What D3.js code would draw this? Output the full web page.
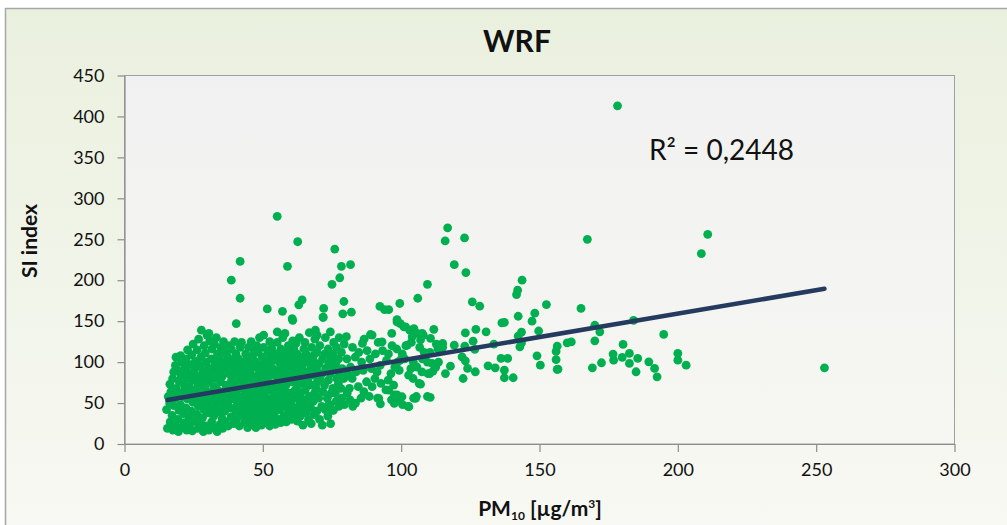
<!DOCTYPE html>
<html>
<head>
<meta charset="utf-8">
<script src="https://cdn.jsdelivr.net/npm/d3@7"></script>
<style>
  body { margin: 0; background: #fff; }
  svg { display: block; }
  text { font-family: Lato, "Open Sans", sans-serif; }
</style>
</head>
<body>
<svg id="chart" width="1007" height="525"></svg>
<script>
// Axis ticks
const xTicks = [0, 50, 100, 150, 200, 250, 300];
const yTicks = [0, 50, 100, 150, 200, 250, 300, 350, 400, 450];

// Observations: [PM10 (µg/m³), SI index]
const observations = [
  [15.5,19],[15.2,42],[15.8,58],
  [16.5,27],[16.3,50],[16.8,64],[16.4,73],
  [17.5,17],[17.2,35],[17.7,47],[17.4,80],[17.8,88],
  [18.5,22],[18.3,56],[18.7,68],[18.4,96],[18.6,106],
  [19.5,15],[19.3,30],[19.7,41],[19.4,62],[19.6,77],[19.2,90],
  [20.5,20],[20.2,48],[20.8,58],[20.4,84],[20.6,100],[20.3,108],
  [21.5,26],[21.3,37],[21.7,66],[21.4,73],[21.8,94],
  [22.5,17],[22.2,44],[22.7,55],[22.4,80],[22.6,88],[22.3,104],[22.8,115],
  [23.5,23],[23.3,33],[23.7,62],[23.4,70],[23.6,97],
  [24.5,16],[24.2,40],[24.7,51],[24.4,78],[24.6,86],[24.3,109],[24.8,122],
  [25.5,28],[25.3,58],[25.7,66],[25.4,92],[25.6,101],
  [26.5,19],[26.2,36],[26.7,46],[26.4,74],[26.6,83],[26.3,115],[26.8,128],
  [27.5,25],[27.3,54],[27.7,62],[27.4,96],[27.6,106],[27.8,139],
  [28.5,15],[28.2,32],[28.7,42],[28.4,70],[28.6,79],[28.3,88],[28.8,120],
  [29.5,22],[29.3,50],[29.7,58],[29.4,66],[29.6,100],[29.2,111],[29.8,133],
  [30.5,17],[30.2,38],[30.7,46],[30.4,75],[30.6,84],[30.3,93],[30.8,126],[30.5,135],
  [31.5,27],[31.3,55],[31.7,63],[31.4,104],[31.6,116],
  [32.5,20],[32.2,34],[32.7,43],[32.4,70],[32.6,80],[32.3,90],[32.8,98],[32.5,122],
  [33.5,15],[33.3,50],[33.7,59],[33.4,67],[33.6,110],[33.2,130],
  [34.5,24],[34.2,39],[34.7,76],[34.4,86],[34.6,95],[34.3,104],[34.8,118],
  [35.5,19],[35.3,31],[35.7,46],[35.4,55],[35.6,64],[35.2,82],[35.8,125],
  [36.5,27],[36.2,40],[36.7,72],[36.4,92],[36.6,100],[36.3,112],
  [37.5,22],[37.3,50],[37.7,60],[37.4,68],[37.6,86],[37.2,107],[37.8,120],
  [38.5,33],[38.2,44],[38.7,78],[38.4,96],[38.6,116],[38.6,200],
  [39.5,25],[39.3,55],[39.7,64],[39.4,73],[39.6,90],[39.2,103],[39.8,125],
  [40.5,30],[40.2,40],[40.7,49],[40.4,84],[40.6,98],[40.3,110],[40.4,147],
  [41.5,22],[41.3,58],[41.7,68],[41.4,78],[41.6,93],[41.2,104],[41.8,118],[41.8,178],[41.8,223],
  [42.5,35],[42.2,45],[42.7,53],[42.4,87],[42.6,100],[42.3,124],
  [43.5,27],[43.3,40],[43.7,62],[43.4,72],[43.6,82],[43.2,95],[43.8,110],
  [44.5,20],[44.2,31],[44.7,50],[44.4,58],[44.6,90],[44.3,104],[44.8,118],
  [45.5,36],[45.3,44],[45.7,67],[45.4,77],[45.6,86],[45.2,98],[45.8,125],
  [46.5,24],[46.2,30],[46.7,54],[46.4,62],[46.6,94],[46.3,108],[46.8,115],
  [47.5,20],[47.3,40],[47.7,48],[47.4,72],[47.6,82],[47.2,101],[47.8,120],
  [48.5,28],[48.2,35],[48.7,58],[48.4,66],[48.6,90],[48.3,112],[48.8,130],
  [49.5,23],[49.3,44],[49.7,52],[49.4,76],[49.6,85],[49.2,97],[49.8,106],
  [50.5,31],[50.2,38],[50.7,62],[50.4,70],[50.6,92],[50.3,118],[50.3,133],
  [51.5,26],[51.3,46],[51.7,55],[51.4,80],[51.6,88],[51.2,100],[51.8,112],[51.6,165],
  [52.5,22],[52.2,34],[52.7,42],[52.4,66],[52.6,74],[52.3,96],[52.8,106],[52.5,125],
  [53.5,29],[53.3,50],[53.7,58],[53.4,84],[53.6,92],[53.2,117],
  [54.5,24],[54.2,38],[54.7,45],[54.4,64],[54.6,72],[54.3,102],[54.8,110],[55.2,137],
  [55.5,30],[55.3,54],[55.7,60],[55.4,80],[55.6,90],[55.2,124],[55.2,278],
  [56.5,26],[56.2,42],[56.7,48],[56.4,68],[56.6,76],[56.3,98],[56.8,107],[56.5,116],
  [57.5,34],[57.3,57],[57.7,64],[57.4,86],[57.6,94],[57.2,130],[57.1,162],
  [58.5,27],[58.2,46],[58.7,52],[58.4,72],[58.6,80],[58.3,104],[58.8,112],[58.0,135],
  [59.5,36],[59.3,40],[59.7,62],[59.4,90],[59.6,98],[59.2,120],[58.9,217],
  [60.5,30],[60.2,50],[60.7,56],[60.4,76],[60.6,84],[60.3,108],[60.8,126],[60.8,151],[60.6,153],
  [61.5,38],[61.3,44],[61.7,66],[61.4,94],[61.6,102],[61.2,116],
  [62.5,28],[62.2,56],[62.7,72],[62.4,80],[62.6,88],[62.3,110],[62.0,123],[62.6,247],
  [63.5,34],[63.3,48],[63.7,62],[63.4,98],[63.6,106],[63.2,130],[63.0,170],
  [64.5,23],[64.2,42],[64.7,54],[64.4,76],[64.6,84],[64.3,92],[64.8,116],[64.2,176],
  [65.5,38],[65.3,66],[65.7,70],[65.4,100],[65.6,110],[65.2,124],
  [66.5,30],[66.2,48],[66.7,58],[66.4,80],[66.6,88],[66.3,104],[66.8,136],
  [67.5,25],[67.3,44],[67.7,72],[67.4,94],[67.6,118],
  [68.5,36],[68.2,52],[68.7,62],[68.4,84],[68.6,100],[68.3,108],[68.8,128],
  [69.5,40],[69.3,68],[69.7,76],[69.4,92],[69.6,112],[69.0,139],[69.6,133],
  [70.5,30],[70.2,56],[70.7,80],[70.4,98],[70.6,120],
  [71.5,23],[71.3,46],[71.7,64],[71.4,86],[71.6,104],[71.8,155],[72.0,165.5],
  [72.5,42],[72.3,72],[72.7,92],[72.4,110],[72.6,130],[71.8,154.5],
  [73.5,34],[73.3,56],[73.7,78],[73.8,98],[73.6,116],[73.8,47.6],
  [74.5,25],[74.2,48],[74.7,62],[74.4,86],[74.6,104],[74.4,137],[75.0,195],
  [75.5,41],[75.3,68],[75.7,92],[75.4,110],[75.6,124],[75.0,41.5],
  [76.5,52],[76.2,62],[76.7,80],[76.4,98],[76.6,118],[76.0,238],
  [77.5,46],[77.3,74],[77.7,86],[77.4,104],[77.6,130],[77.8,203],
  [78.5,56],[78.2,68],[78.7,92],[78.4,112],[78.9,159],[78.4,217],
  [79.5,48],[79.3,80],[79.4,122],[79.3,174],
  [80.5,62],[80.7,86],[80.4,104],[80.2,131],
  [81.5,54],[81.3,68],[81.7,94],[81.7,219],
  [82.5,46],[82.3,80],[82.4,118],[82.0,161],
  [83.5,50],[83.7,88],[83.4,106],
  [84.5,70],[84.7,112],
  [85.5,56],[85.7,100],[86.0,122.8],
  [86.5,64],[86.3,90],[86.6,128],
  [87.5,76],[87.7,114],
  [88.5,58],[88.7,104],[88.9,133.7],
  [89.5,70],[89.3,92],[89.5,133],
  [90.5,80],[90.7,110],
  [91.5,56],[91.3,88],[91.7,124],[91.9,55.7],
  [92.5,49],[92.7,74],[92.4,96],[92.3,168],
  [93.3,114],[93.1,124.8],
  [94.5,66],[94.7,102],[94.0,164],
  [95.5,65.8],[95.3,78],[95.4,110],[95.5,164],
  [96.5,54],[96.3,86],[96.7,120],[96.6,135],
  [97.5,49.6],[97.3,72],[97.7,94],[97.5,60],
  [98.5,60],[98.7,100],[98.4,116],[98.5,149],[98.5,152],
  [99.5,53.7],[99.3,90],[99.7,147],[99.5,171.6],
  [100.5,48],[100.3,57.7],[100.4,110],[101.0,143],[99.7,102.4],
  [101.3,104],[101.7,120],[101.6,143],
  [102.5,46],[102.8,45.5],[102.7,84],[102.2,120.7],[103.1,139],
  [103.5,92],[103.7,124],
  [104.5,56],[104.3,80],[104.4,100],[104.0,131],[104.6,141],
  [105.5,58],[105.2,55.7],[105.7,94],[105.8,135],
  [106.5,74],[106.7,118],[106.0,178],
  [107.5,88],[107.0,73],[107.7,104],[107.0,127],[107.6,135],
  [108.3,112],[108.0,133],
  [109.5,58],[109.7,86],[109.5,100],[109.5,195],
  [110.5,57],[110.3,86],[110.4,112],[110.6,129],
  [111.5,89],[111.2,98.4],[111.8,140],
  [112.5,94],[112.7,122],
  [113.5,100],[113.3,116],
  [116.8,264],[115.9,248],[122.9,251.6],[119.2,219],[123.4,209.3],[125.7,173.6],[128.4,168.3],
  [143.7,200],[142.1,187.8],[141.7,182.5],[152.5,170.3],[148.3,159.8],[142.3,156],[147.3,150],
  [137.3,148.4],[136.4,148],[127.0,140],[130.7,137],[123.2,135.7],[143.5,136.6],[142.3,131.7],
  [149.7,138],[126.0,125.6],[115.0,122.8],[115.0,118],[119.2,120.7],[123.0,119.5],[133.5,122],
  [126.6,115.5],[142.9,118.7],[143.5,123.5],[156.4,119.5],[156.0,113],[122.0,106.5],[123.2,101.6],
  [136.1,104.5],[138.5,104.5],[149.1,107.7],[124.0,92.3],[117.8,95],[116.0,86],[131.4,95.5],
  [134.0,93],[137.3,90.2],[126.8,88.2],[150.3,96.3],[156.4,91],[122.4,80],[137.3,80.9],[140.5,80.9],
  [178.2,413],[167.3,250],[208.5,232.5],[210.8,256],[253.0,93],[165.0,165.5],[170.0,145],
  [171.8,137],[170.0,126],[184.0,151],[194.9,133.8],[180.2,121.6],[182.5,110.6],[185.5,104.5],
  [176.6,109.8],[176.8,102.4],[179.9,105.7],[182.5,98.4],[184.9,88.2],[189.5,100.4],[191.6,92.3],
  [192.5,82],[200.0,110.6],[200.0,102.4],[203.0,96.3],[172.4,99.2],[169.1,93],[160.0,123.5],
  [161.5,124.7],[156.7,91.5],[156.0,103]
];

// Linear trend line (fitted in the source workbook)
const trendSlope = 0.572;
const trendIntercept = 44.8;
const trendRange = [15.5, 253];
const r2Label = "R\u00B2 = 0,2448";

const svg = d3.select("#chart");
const W = 1007, H = 525;
const plot = { left: 124.5, right: 954.5, top: 75.5, bottom: 444 };

const defs = svg.append("defs");
const frameGrad = defs.append("linearGradient")
  .attr("id", "frameGrad").attr("x1", 0).attr("y1", 0).attr("x2", 0).attr("y2", 1);
frameGrad.append("stop").attr("offset", "0%").attr("stop-color", "#eaf0de");
frameGrad.append("stop").attr("offset", "100%").attr("stop-color", "#f8f9f4");

const plotGrad = defs.append("linearGradient")
  .attr("id", "plotGrad").attr("x1", 0).attr("y1", 0).attr("x2", 0).attr("y2", 1);
plotGrad.append("stop").attr("offset", "0%").attr("stop-color", "#f1f1f1");
plotGrad.append("stop").attr("offset", "100%").attr("stop-color", "#f6f7f2");

// Outer chart frame
svg.append("rect")
  .attr("x", 5.5).attr("y", 8.5).attr("width", W + 20).attr("height", H + 20)
  .attr("fill", "url(#frameGrad)").attr("stroke", "#a6a6a6").attr("stroke-width", 1.5);

const x = d3.scaleLinear().domain([0, 300]).range([plot.left, plot.right]);
const y = d3.scaleLinear().domain([0, 450]).range([plot.bottom, plot.top]);

// Plot area
svg.append("rect")
  .attr("x", plot.left).attr("y", plot.top)
  .attr("width", plot.right - plot.left).attr("height", plot.bottom - plot.top)
  .attr("fill", "url(#plotGrad)").attr("stroke", "#a0a0a0").attr("stroke-width", 1);

// Axes
const yAxis = svg.append("g")
  .attr("transform", `translate(${plot.left},0)`)
  .call(d3.axisLeft(y).tickValues(yTicks).tickSize(7).tickPadding(13).tickSizeOuter(0));
const xAxis = svg.append("g")
  .attr("transform", `translate(0,${plot.bottom})`)
  .call(d3.axisBottom(x).tickValues(xTicks).tickSize(8).tickPadding(11).tickSizeOuter(0));

[xAxis, yAxis].forEach(g => {
  g.select(".domain").attr("stroke", "#8c8c8c").attr("stroke-width", 1.2);
  g.selectAll(".tick line").attr("stroke", "#8c8c8c").attr("stroke-width", 1.2);
  g.selectAll(".tick text")
    .attr("fill", "#111")
    .style("font-size", "18px")
    .style("font-family", "Lato, 'Open Sans', sans-serif");
});

// Scatter points
svg.append("g")
  .selectAll("circle")
  .data(observations)
  .join("circle")
  .attr("cx", d => x(d[0]))
  .attr("cy", d => y(d[1]))
  .attr("r", 4.4)
  .attr("fill", "#00b050");

// Trend line
const trend = trendRange.map(v => [v, trendSlope * v + trendIntercept]);
svg.append("line")
  .attr("x1", x(trend[0][0])).attr("y1", y(trend[0][1]))
  .attr("x2", x(trend[1][0])).attr("y2", y(trend[1][1]))
  .attr("stroke", "#243a5e").attr("stroke-width", 4.5).attr("stroke-linecap", "round");

// R² annotation
svg.append("text")
  .attr("x", 649).attr("y", 160)
  .style("font-size", "28px").attr("fill", "#111")
  .text(r2Label);

// Title
svg.append("text")
  .attr("x", 517).attr("y", 52)
  .attr("text-anchor", "middle")
  .style("font-size", "30px").style("font-weight", "bold").attr("fill", "#111")
  .text("WRF");

// Axis titles
const xTitle = svg.append("text")
  .attr("x", 540).attr("y", 516)
  .attr("text-anchor", "middle")
  .style("font-size", "21px").style("font-weight", "bold").attr("fill", "#111");
xTitle.append("tspan").text("PM");
xTitle.append("tspan").attr("dy", 4).style("font-size", "12px").text("10");
xTitle.append("tspan").attr("dy", -4).text(" [µg/m");
xTitle.append("tspan").attr("dy", -8).style("font-size", "12px").text("3");
xTitle.append("tspan").attr("dy", 8).text("]");

svg.append("text")
  .attr("transform", "translate(37,241) rotate(-90)")
  .attr("text-anchor", "middle")
  .style("font-size", "21px").style("font-weight", "bold").attr("fill", "#111")
  .text("SI index");
</script>
</body>
</html>
